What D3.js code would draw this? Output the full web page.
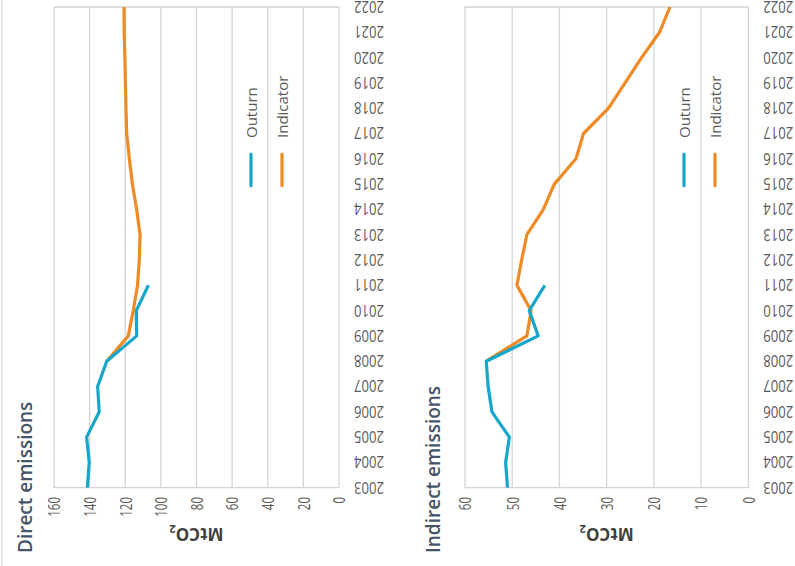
<!DOCTYPE html>
<html><head><meta charset="utf-8">
<script src="https://cdn.jsdelivr.net/npm/d3@7"></script>
<style>body{margin:0;background:#fff}svg{display:block}</style>
</head><body>
<svg id="c" width="795" height="566"></svg>
<script>
const years = d3.range(2003, 2023).map(String);
const directOutturn = [141.3,140.2,141.7,134.6,135.5,130.4,113.6,113.8,107.0];
const directIndicator = [null,null,null,null,null,130.4,118.3,115.5,113.1,112.1,111.7,113.6,116.0,117.7,119.2,119.6,119.9,120.2,120.6,120.7];
const indirectOutturn = [51.0,51.4,50.6,54.3,55.1,55.5,44.5,46.4,43.1];
const indirectIndicator = [null,null,null,null,null,55.5,46.9,46.0,49.0,48.0,46.9,43.4,41.1,36.5,34.9,29.6,26.1,22.6,18.8,16.6];
const directTicks = [0,20,40,60,80,100,120,140,160];
const indirectTicks = [0,10,20,30,40,50,60];
const seriesNames = ["Outurn","Indicator"];
const colors = ["#16a6cb","#f08a24"];

const svg = d3.select("#c");
const font = "'Open Sans', 'Noto Sans', sans-serif";
const grey = "#595959", gridC = "#d4d4d4";

function panel(cfg){
  const g = svg.append("g");
  const x = d3.scaleLinear().domain([0, cfg.max]).range([cfg.x0, cfg.x1]);
  const y = d3.scalePoint().domain(years).range([487.7, 7]);
  g.selectAll("line.grid").data(cfg.ticks).join("line")
    .attr("x1", d=>x(d)).attr("x2", d=>x(d)).attr("y1", y.range()[1]).attr("y2", y.range()[0])
    .attr("stroke", gridC).attr("stroke-width", 1.3);
  [y.range()[0], y.range()[1]].forEach(yy=>{
    g.append("line").attr("x1", x(cfg.max)).attr("x2", x(0)).attr("y1", yy).attr("y2", yy)
      .attr("stroke", gridC).attr("stroke-width", 1.3);
  });
  // value tick labels (reading bottom-to-top)
  g.selectAll("text.vt").data(cfg.ticks).join("text")
    .attr("transform", d=>`translate(${x(d)},${497}) rotate(-90) scale(0.72,1)`)
    .attr("text-anchor","end").attr("dominant-baseline","central")
    .attr("font-family", font).attr("font-size", 16).attr("fill", grey)
    .text(d=>d);
  // year labels (upside down)
  g.selectAll("text.yt").data(years).join("text")
    .attr("transform", d=>`translate(${x(0)+15},${y(d)+0.5}) rotate(180) scale(0.82,1)`)
    .attr("text-anchor","end").attr("dominant-baseline","central")
    .attr("font-family", font).attr("font-size", 16).attr("fill", grey)
    .text(d=>d);
  // axis title
  const t = g.append("text")
    .attr("transform", `translate(${(x(0)+x(cfg.max))/2},${535}) rotate(180)`)
    .attr("text-anchor","middle").attr("dominant-baseline","central")
    .attr("font-family", font).attr("font-size", 17).attr("font-weight", 700).attr("fill", "#404040");
  t.append("tspan").text("MtCO");
  t.append("tspan").attr("font-size", 11).attr("dy", 5).text("2");
  // chart title
  g.append("text")
    .attr("transform", `translate(${cfg.tx},553) rotate(-90)`)
    .attr("font-family", font).attr("font-size", 19).attr("font-weight", 600).attr("fill", "#44546a")
    .text(cfg.title);
  // lines
  const line = d3.line().defined(d=>d.v!=null).x(d=>x(d.v)).y(d=>y(d.yr));
  [cfg.ind, cfg.out].forEach((arr, i)=>{
    const data = arr.map((v,k)=>({yr: years[k], v}));
    g.append("path").datum(data).attr("d", line).attr("fill","none")
      .attr("stroke", colors[i===0?1:0]).attr("stroke-width", 3.2).attr("stroke-linejoin","round");
  });
  // legend
  seriesNames.forEach((n,i)=>{
    const lx = cfg.lx + i*31;
    g.append("line").attr("x1", lx).attr("x2", lx).attr("y1", 154).attr("y2", 185.7)
      .attr("stroke", colors[i]).attr("stroke-width", 3.2).attr("stroke-linecap","round");
    g.append("text").attr("transform", `translate(${lx},138) rotate(-90)`)
      .attr("dominant-baseline","central")
      .attr("font-family", font).attr("font-size", 15).attr("fill", grey).text(n);
  });
}
panel({max:160, x0:339, x1:54, ticks:directTicks, out:directOutturn, ind:directIndicator, title:"Direct emissions", tx:32, lx:251});
panel({max:60, x0:748.3, x1:465, ticks:indirectTicks, out:indirectOutturn, ind:indirectIndicator, title:"Indirect emissions", tx:440, lx:684});
svg.append("line").attr("x1",2).attr("x2",2).attr("y1",0).attr("y2",566).attr("stroke",gridC).attr("stroke-width",1);
</script>
</body></html>
